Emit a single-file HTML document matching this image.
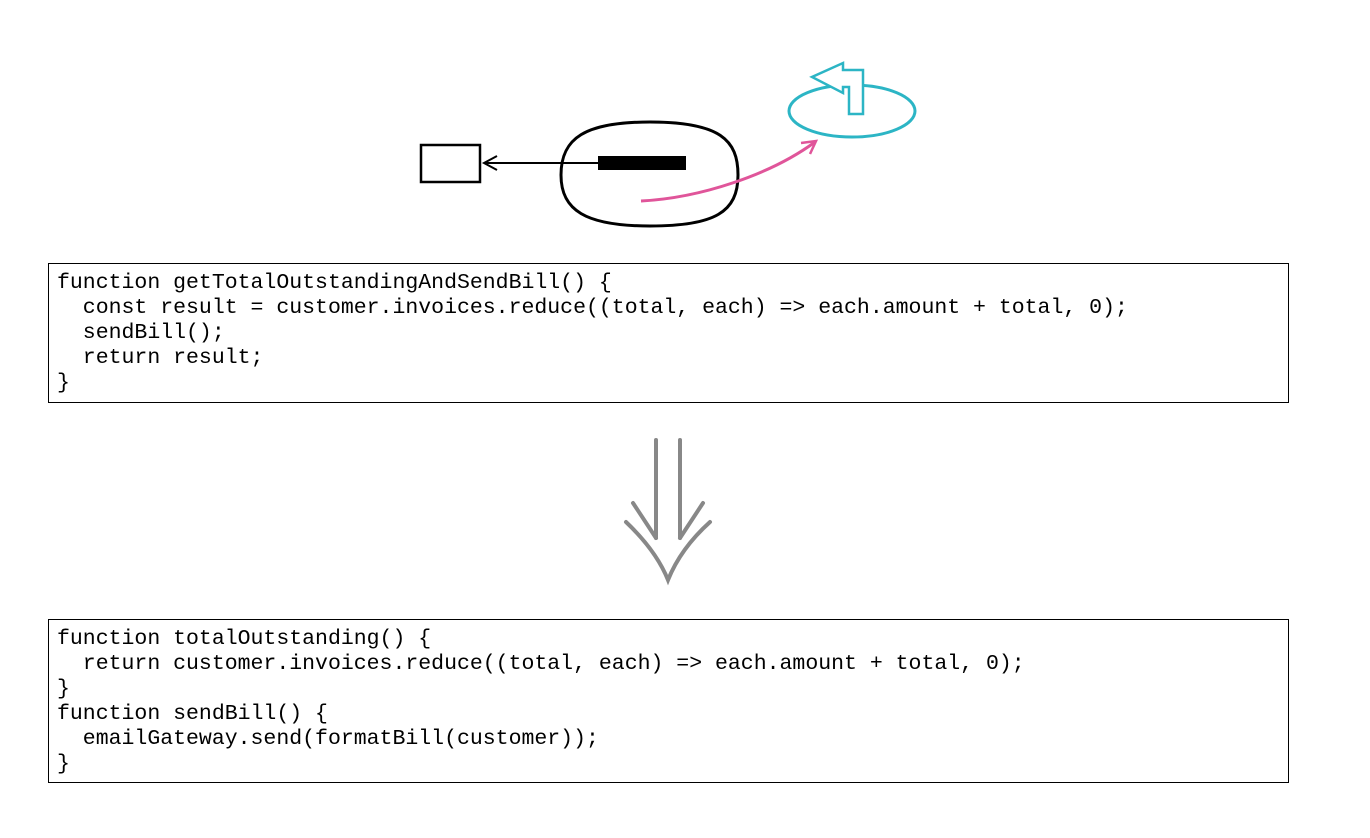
<!DOCTYPE html>
<html><head><style>
body{margin:0;width:1370px;height:838px;background:#fff;position:relative;overflow:hidden}
.box{position:absolute;left:48px;width:1241px;border:1px solid #000;box-sizing:border-box;font-family:"Liberation Mono",monospace;font-size:21.5px;line-height:25px;white-space:pre;padding:7px 0 0 8px;color:#000}
</style></head><body>
<svg width="1370" height="838" style="position:absolute;left:0;top:0">
<rect x="421" y="145" width="59" height="37" fill="none" stroke="#000" stroke-width="2.5"/>
<path d="M650,122 C720,122 738,140 738,175 C738,212 715,226 650,226 C585,226 561,210 561,175 C561,138 585,122 650,122 Z" fill="none" stroke="#000" stroke-width="3"/>
<rect x="598" y="156" width="88" height="14" fill="#000"/>
<line x1="598" y1="163" x2="484" y2="163" stroke="#000" stroke-width="2"/>
<path d="M497,156 L484,163 L497,170" fill="none" stroke="#000" stroke-width="2"/>
<path d="M641,201 C700,198 770,175 815,142" fill="none" stroke="#e0559a" stroke-width="3"/>
<path d="M801,143 L816,141 L810,154" fill="none" stroke="#e0559a" stroke-width="2.5"/>
<ellipse cx="852" cy="111" rx="63" ry="26" fill="#fff" stroke="#2cb5c5" stroke-width="3"/>
<path d="M849,114 L849,87 L843,87 L843,93 L812,77 L843,63 L843,70 L863,70 L863,114 Z" fill="#fff" stroke="#2cb5c5" stroke-width="2.5"/>
<g stroke="#888" stroke-width="4" fill="none" stroke-linecap="round">
<line x1="656" y1="440" x2="656" y2="538"/>
<line x1="680" y1="440" x2="680" y2="538"/>
<path d="M633,503 L656,538"/>
<path d="M703,503 L680,538"/>
<path d="M626,522 C645,540 660,560 668,580 C676,560 690,540 710,522"/>
</g>
</svg>
<div class="box" style="top:263px;height:140px">function getTotalOutstandingAndSendBill() {
  const result = customer.invoices.reduce((total, each) =&gt; each.amount + total, 0);
  sendBill();
  return result;
}</div>
<div class="box" style="top:619px;height:164px">function totalOutstanding() {
  return customer.invoices.reduce((total, each) =&gt; each.amount + total, 0);
}
function sendBill() {
  emailGateway.send(formatBill(customer));
}</div>
</body></html>
